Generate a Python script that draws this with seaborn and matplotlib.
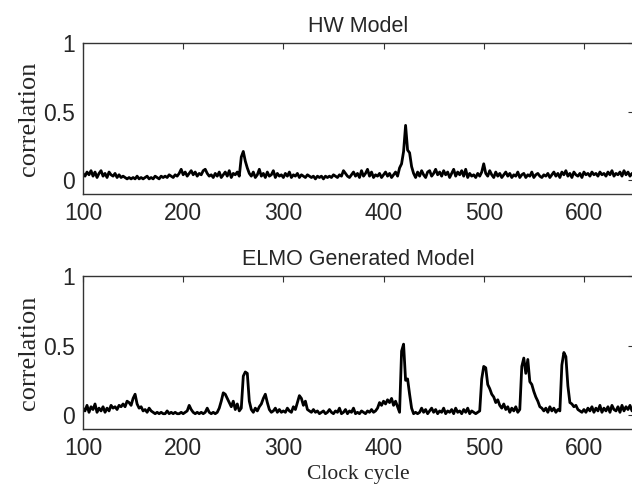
import numpy as np
import pandas as pd
import matplotlib
matplotlib.use("Agg")
import matplotlib.pyplot as plt
import seaborn as sns

# --------------------------------------------------------------------------
# data: correlation per clock cycle (every 2nd cycle)
# --------------------------------------------------------------------------
CYCLE_START, CYCLE_STOP, CYCLE_STEP = 100, 650, 2

hw_corr = [
    0.05, 0.03, 0.06, 0.04, 0.07, 0.03, 0.06, 0.02, 0.05, 0.07,
    0.03, 0.05, 0.02, 0.06, 0.04, 0.03, 0.05, 0.02, 0.04, 0.02,
    0.03, 0.02, 0.01, 0.02, 0.01, 0.02, 0.01, 0.03, 0.01, 0.02,
    0.01, 0.02, 0.03, 0.01, 0.02, 0.01, 0.03, 0.02, 0.01, 0.03,
    0.02, 0.03, 0.02, 0.04, 0.03, 0.02, 0.04, 0.03, 0.05, 0.08,
    0.04, 0.06, 0.03, 0.05, 0.07, 0.04, 0.06, 0.03, 0.05, 0.04,
    0.07, 0.08, 0.05, 0.03, 0.04, 0.02, 0.05, 0.03, 0.06, 0.02,
    0.04, 0.06, 0.03, 0.07, 0.02, 0.05, 0.04, 0.06, 0.03, 0.17,
    0.21, 0.14, 0.09, 0.05, 0.03, 0.06, 0.02, 0.04, 0.08, 0.03,
    0.05, 0.02, 0.06, 0.03, 0.04, 0.07, 0.02, 0.05, 0.03, 0.04,
    0.02, 0.05, 0.03, 0.06, 0.02, 0.04, 0.03, 0.05, 0.02, 0.04,
    0.03, 0.02, 0.04, 0.03, 0.02, 0.03, 0.01, 0.03, 0.02, 0.03,
    0.01, 0.03, 0.02, 0.03, 0.02, 0.04, 0.03, 0.02, 0.04, 0.03,
    0.07, 0.05, 0.03, 0.02, 0.04, 0.06, 0.03, 0.05, 0.02, 0.07,
    0.03, 0.05, 0.08, 0.03, 0.06, 0.02, 0.04, 0.03, 0.05, 0.02,
    0.04, 0.06, 0.03, 0.05, 0.02, 0.04, 0.06, 0.03, 0.09, 0.12,
    0.21, 0.40, 0.22, 0.20, 0.10, 0.05, 0.02, 0.06, 0.03, 0.07,
    0.04, 0.02, 0.06, 0.07, 0.03, 0.05, 0.08, 0.04, 0.06, 0.03,
    0.07, 0.04, 0.06, 0.02, 0.05, 0.08, 0.03, 0.06, 0.04, 0.07,
    0.03, 0.08, 0.02, 0.05, 0.03, 0.04, 0.02, 0.05, 0.03, 0.06,
    0.12, 0.05, 0.03, 0.07, 0.04, 0.02, 0.06, 0.03, 0.05, 0.02,
    0.04, 0.06, 0.03, 0.05, 0.02, 0.04, 0.03, 0.06, 0.02, 0.04,
    0.05, 0.02, 0.04, 0.03, 0.06, 0.02, 0.04, 0.05, 0.03, 0.02,
    0.04, 0.03, 0.05, 0.02, 0.04, 0.06, 0.03, 0.05, 0.02, 0.06,
    0.04, 0.07, 0.03, 0.05, 0.02, 0.06, 0.04, 0.03, 0.05, 0.02,
    0.06, 0.04, 0.05, 0.03, 0.06, 0.04, 0.05, 0.03, 0.06, 0.04,
    0.05, 0.03, 0.06, 0.04, 0.07, 0.03, 0.05, 0.04, 0.06, 0.03,
    0.07, 0.04, 0.06, 0.03, 0.05, 0.04,
]

elmo_corr = [
    0.05, 0.03, 0.07, 0.02, 0.06, 0.04, 0.08, 0.02, 0.05, 0.03,
    0.06, 0.02, 0.05, 0.03, 0.07, 0.05, 0.06, 0.04, 0.07, 0.06,
    0.08, 0.06, 0.10, 0.09, 0.07, 0.12, 0.15, 0.08, 0.05, 0.06,
    0.03, 0.04, 0.02, 0.05, 0.03, 0.02, 0.01, 0.02, 0.01, 0.02,
    0.01, 0.01, 0.03, 0.01, 0.02, 0.01, 0.02, 0.01, 0.01, 0.02,
    0.01, 0.02, 0.03, 0.07, 0.04, 0.02, 0.01, 0.02, 0.01, 0.02,
    0.01, 0.02, 0.05, 0.02, 0.01, 0.02, 0.01, 0.02, 0.05, 0.10,
    0.16, 0.15, 0.12, 0.09, 0.06, 0.10, 0.04, 0.08, 0.03, 0.05,
    0.28, 0.31, 0.30, 0.10, 0.04, 0.02, 0.05, 0.03, 0.06, 0.08,
    0.12, 0.15, 0.09, 0.04, 0.02, 0.03, 0.05, 0.02, 0.04, 0.02,
    0.03, 0.02, 0.05, 0.03, 0.02, 0.06, 0.04, 0.09, 0.14, 0.12,
    0.07, 0.10, 0.04, 0.03, 0.02, 0.04, 0.02, 0.03, 0.01, 0.02,
    0.03, 0.01, 0.02, 0.04, 0.02, 0.01, 0.03, 0.02, 0.05, 0.01,
    0.02, 0.04, 0.01, 0.03, 0.02, 0.05, 0.01, 0.02, 0.01, 0.03,
    0.02, 0.01, 0.03, 0.02, 0.04, 0.02, 0.03, 0.05, 0.09, 0.07,
    0.10, 0.08, 0.11, 0.09, 0.12, 0.07, 0.10, 0.06, 0.02, 0.46,
    0.51, 0.25, 0.26, 0.15, 0.05, 0.01, 0.02, 0.01, 0.02, 0.05,
    0.02, 0.04, 0.01, 0.03, 0.05, 0.02, 0.04, 0.01, 0.03, 0.02,
    0.05, 0.01, 0.03, 0.02, 0.04, 0.01, 0.05, 0.02, 0.03, 0.01,
    0.04, 0.02, 0.05, 0.01, 0.03, 0.02, 0.01, 0.02, 0.03, 0.26,
    0.35, 0.34, 0.22, 0.19, 0.15, 0.13, 0.09, 0.11, 0.07, 0.05,
    0.08, 0.04, 0.06, 0.02, 0.05, 0.03, 0.06, 0.02, 0.04, 0.35,
    0.41, 0.30, 0.40, 0.24, 0.22, 0.17, 0.13, 0.10, 0.06, 0.05,
    0.03, 0.05, 0.02, 0.06, 0.03, 0.05, 0.02, 0.04, 0.03, 0.36,
    0.45, 0.42, 0.21, 0.09, 0.08, 0.06, 0.07, 0.04, 0.03, 0.02,
    0.04, 0.02, 0.05, 0.03, 0.06, 0.02, 0.05, 0.03, 0.07, 0.02,
    0.05, 0.03, 0.06, 0.02, 0.07, 0.04, 0.03, 0.06, 0.02, 0.07,
    0.03, 0.06, 0.04, 0.07, 0.03, 0.05,
]

titles = ["HW Model", "ELMO Generated Model"]
x_ticks = [100, 200, 300, 400, 500, 600]
y_ticks = [0, 0.5, 1]
y_tick_labels = ["0", "0.5", "1"]

# --------------------------------------------------------------------------
# plot
# --------------------------------------------------------------------------
sns.set_style("white")
plt.rcParams["font.family"] = ["Liberation Sans", "DejaVu Sans"]
plt.rcParams["xtick.direction"] = "in"
plt.rcParams["ytick.direction"] = "in"

cycles = np.arange(CYCLE_START, CYCLE_STOP + 1, CYCLE_STEP)
df = pd.DataFrame({"cycle": cycles, "hw": hw_corr, "elmo": elmo_corr})

fig = plt.figure(figsize=(6.32, 4.91), dpi=100)
W, H = 632, 491
# axes boxes in pixels: (left, top, right, bottom)
boxes = [(83, 43, 634, 194), (83, 276, 634, 429)]

for i, (col, title) in enumerate(zip(["hw", "elmo"], titles)):
    l, t, r, b = boxes[i]
    ax = fig.add_axes([l / W, 1 - b / H, (r - l) / W, (b - t) / H])
    sns.lineplot(data=df, x="cycle", y=col, ax=ax, color="black", linewidth=2.0)
    ax.set_xlim(100, 650)
    ax.set_ylim(-0.1, 1)
    ax.set_xticks(x_ticks)
    ax.set_xticklabels([str(v) for v in x_ticks])
    ax.set_yticks(y_ticks)
    ax.set_yticklabels(y_tick_labels)
    ax.tick_params(axis="both", labelsize=16.5, length=4, width=0.8, color="#333333",
                   top=True, right=True, pad=6)
    for s in ax.spines.values():
        s.set_color("#333333")
        s.set_linewidth(1.0)
    ax.set_title(title, fontsize=15.5, pad=8)
    ax.set_ylabel("correlation", family=["Liberation Serif", "DejaVu Serif"],
                  fontsize=19, labelpad=2)
    if i == 1:
        ax.set_xlabel("Clock cycle", family=["Liberation Serif", "DejaVu Serif"],
                      fontsize=15.5, labelpad=3)
    else:
        ax.set_xlabel("")

fig.savefig("out.png", dpi=100)
